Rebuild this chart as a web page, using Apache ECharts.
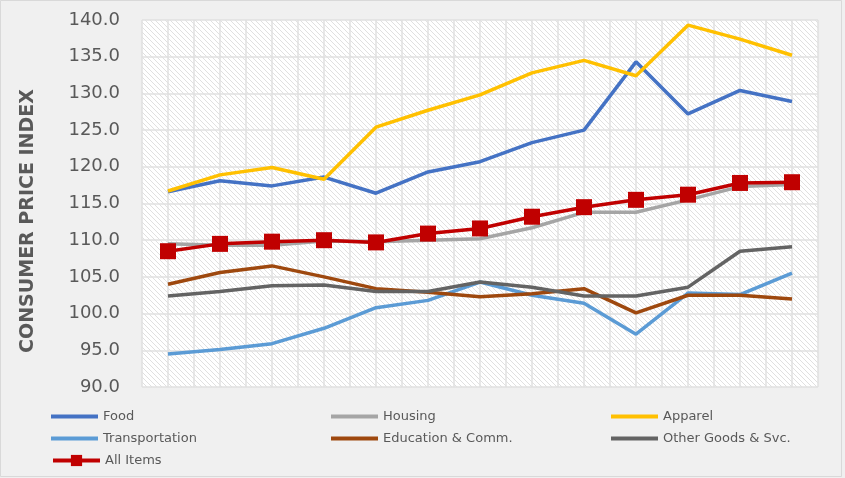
<!DOCTYPE html>
<html>
<head>
<meta charset="utf-8">
<script src="https://cdn.jsdelivr.net/npm/echarts@6/dist/echarts.min.js"></script>
<style>
  html, body { margin: 0; padding: 0; background: #f0f0f0; }
  #chart { width: 845px; height: 478px; }
</style>
</head>
<body>
<div id="chart"></div>
<script>
// Periods along the horizontal axis (labels are not displayed)
const periods = ['1', '2', '3', '4', '5', '6', '7', '8', '9', '10', '11', '12', '13'];

// Consumer price index by group
const food           = [116.6, 118.1, 117.4, 118.6, 116.4, 119.3, 120.7, 123.3, 125.0, 134.3, 127.2, 130.4, 128.9];
const housing        = [109.5, 109.3, 109.3, 109.9, 109.8, 110.0, 110.2, 111.7, 113.8, 113.8, 115.5, 117.3, 117.6];
const apparel        = [116.7, 118.9, 119.9, 118.3, 125.4, 127.7, 129.8, 132.8, 134.5, 132.4, 139.3, 137.4, 135.2];
const transportation = [94.5, 95.1, 95.9, 98.0, 100.8, 101.8, 104.3, 102.5, 101.4, 97.2, 102.8, 102.6, 105.5];
const education      = [104.0, 105.6, 106.5, 105.0, 103.4, 102.9, 102.3, 102.7, 103.4, 100.1, 102.5, 102.5, 102.0];
const otherGoods     = [102.4, 103.0, 103.8, 103.9, 103.0, 103.0, 104.3, 103.6, 102.4, 102.4, 103.6, 108.5, 109.1];
const allItems       = [108.5, 109.5, 109.8, 110.0, 109.7, 110.9, 111.6, 113.2, 114.5, 115.5, 116.2, 117.8, 117.9];

// Value axis range
const yMin = 90, yMax = 140, yStep = 5;

// Hatched plot background tile (downward diagonal)
function hatchTile() {
  const s = 5;
  const c = document.createElement('canvas');
  c.width = s; c.height = s;
  const g = c.getContext('2d');
  g.fillStyle = '#ffffff';
  g.fillRect(0, 0, s, s);
  g.strokeStyle = '#e0e0e0';
  g.lineWidth = 1;
  for (let k = -1; k <= 1; k++) {
    g.beginPath();
    g.moveTo(-1, -1 + s * k);
    g.lineTo(s + 1, s + 1 + s * k);
    g.stroke();
  }
  return c;
}

const chart = echarts.init(document.getElementById('chart'), null, { renderer: 'canvas' });

const textColor = '#595959';
const font = 'DejaVu Sans';

function lineSeries(name, data, color) {
  return {
    name: name,
    type: 'line',
    data: data,
    xAxisIndex: 0,
    symbol: 'none',
    lineStyle: { color: color, width: 3.5 },
    itemStyle: { color: color },
    animation: false
  };
}

// Legend entries for plain lines: a flat bar in the series colour
const lineLegend = {
  orient: 'vertical',
  top: 404,
  icon: 'rect',
  itemWidth: 47,
  itemHeight: 4,
  itemGap: 7,
  textStyle: { color: textColor, fontFamily: font, fontSize: 13, lineHeight: 15 },
  selectedMode: false
};

chart.setOption({
  backgroundColor: '#f0f0f0',
  animation: false,
  grid: {
    left: 142, right: 27, top: 20, bottom: 91,
    show: true,
    borderWidth: 0,
    backgroundColor: { image: hatchTile(), repeat: 'repeat' }
  },
  xAxis: [
    {
      type: 'category',
      data: periods,
      boundaryGap: true,
      axisLine: { show: false },
      axisTick: { show: false },
      axisLabel: { show: false },
      splitLine: { show: false }
    },
    {
      // half-category guide lines
      type: 'value',
      min: 0, max: periods.length * 2, interval: 1,
      position: 'bottom',
      axisLine: { show: false },
      axisTick: { show: false },
      axisLabel: { show: false },
      splitLine: { show: true, lineStyle: { color: '#e0e0e0', width: 1.5 } }
    }
  ],
  yAxis: {
    type: 'value',
    min: yMin, max: yMax, interval: yStep,
    axisLine: { show: false },
    axisTick: { show: false },
    axisLabel: {
      color: textColor, fontFamily: font, fontSize: 18, margin: 22,
      formatter: v => v.toFixed(1)
    },
    splitLine: { show: true, lineStyle: { color: '#e0e0e0', width: 1.5 } }
  },
  legend: [
    Object.assign({}, lineLegend, { left: 46, data: ['Food', 'Transportation'] }),
    Object.assign({}, lineLegend, { left: 326, data: ['Housing', 'Education & Comm.'] }),
    Object.assign({}, lineLegend, { left: 606, data: ['Apparel', 'Other Goods & Svc.'] }),
    {
      left: 46,
      top: 449,
      itemWidth: 47,
      itemHeight: 14,
      lineStyle: { width: 4 },
      textStyle: { color: textColor, fontFamily: font, fontSize: 13 },
      selectedMode: false,
      data: ['All Items']
    }
  ],
  graphic: [
    {
      type: 'rect',
      shape: { x: 0.5, y: 0.5, width: 841, height: 476 },
      style: { fill: 'none', stroke: '#d9d9d9', lineWidth: 1 },
      silent: true
    },
    {
      type: 'text',
      x: 28, y: 221,
      rotation: Math.PI / 2,
      style: {
        text: 'CONSUMER PRICE INDEX',
        fill: textColor,
        font: 'bold 19px "DejaVu Sans"',
        align: 'center',
        verticalAlign: 'middle'
      },
      silent: true
    }
  ],
  series: [
    lineSeries('Food', food, '#4472C4'),
    lineSeries('Housing', housing, '#A5A5A5'),
    lineSeries('Apparel', apparel, '#FFC000'),
    lineSeries('Transportation', transportation, '#5B9BD5'),
    lineSeries('Education & Comm.', education, '#9E480E'),
    lineSeries('Other Goods & Svc.', otherGoods, '#636363'),
    {
      name: 'All Items',
      type: 'line',
      data: allItems,
      xAxisIndex: 0,
      symbol: 'rect',
      symbolSize: 16,
      showSymbol: true,
      lineStyle: { color: '#C00000', width: 3.5 },
      itemStyle: { color: '#C00000' },
      animation: false
    }
  ]
});
</script>
</body>
</html>
